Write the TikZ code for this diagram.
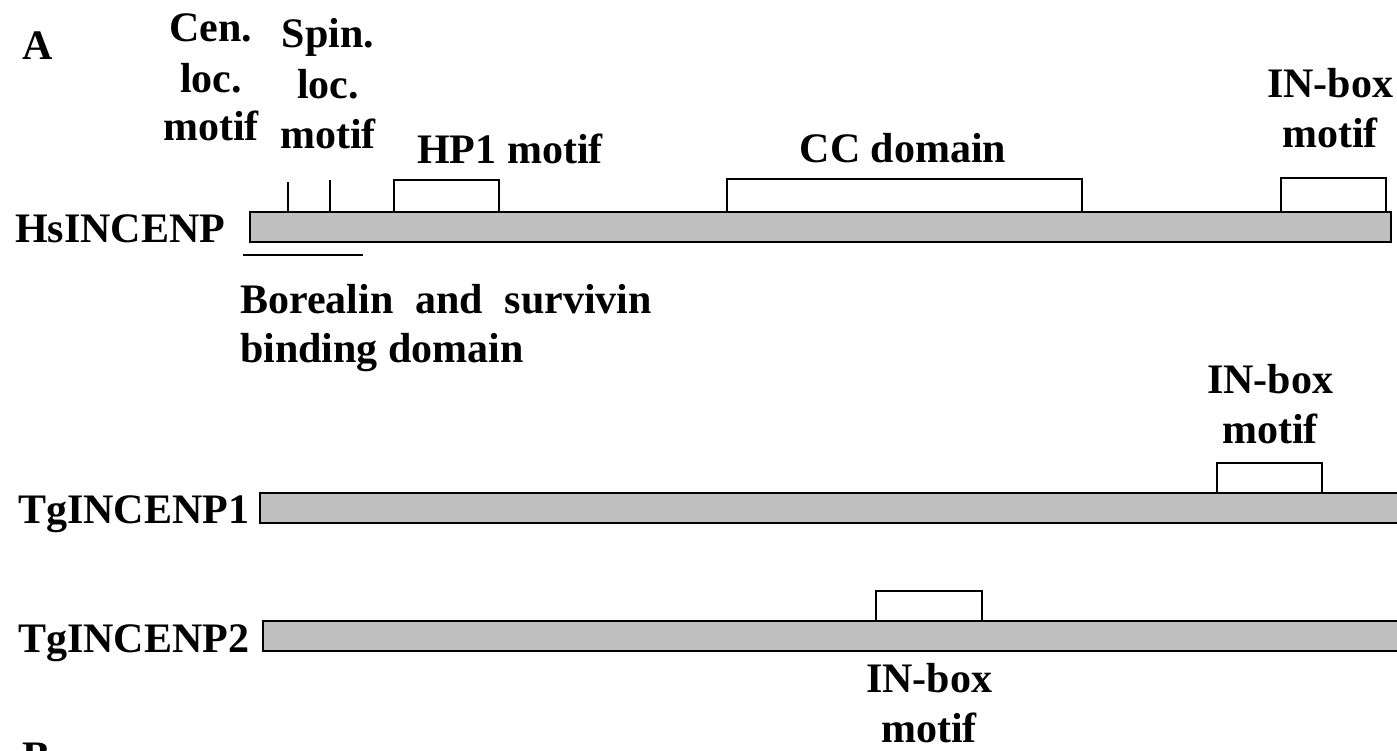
\documentclass[tikz,border=0pt]{standalone}
\usepackage{fontspec}
\setmainfont{Liberation Serif}
\begin{document}
\begin{tikzpicture}[x=1pt,y=-1pt,
  lbl/.style={inner sep=0pt,font=\bfseries\fontsize{42}{50}\selectfont},
  bar/.style={draw,line width=2pt,fill={rgb,255:red,192;green,192;blue,192}},
  brk/.style={draw,line width=1.6pt}]
\clip (0,0) rectangle (1397,750);
\fill[white] (0,0) rectangle (1397,750);
% panel letters
\node[lbl,anchor=base west] (lA) at (22,59) {A};
\node[lbl,anchor=base west] (lB) at (22,770) {B};
% top labels
\node[lbl,anchor=base] (cen1) at (211,41) {Cen.};
\node[lbl,anchor=base] (cen2) at (211,92) {loc.};
\node[lbl,anchor=base] (cen3) at (211,140) {motif};
\node[lbl,anchor=base] (spin1) at (328,47) {Spin.};
\node[lbl,anchor=base] (spin2) at (328,98) {loc.};
\node[lbl,anchor=base] (spin3) at (328,148) {motif};
\node[lbl,anchor=base] (hp1) at (510,163) {HP1 motif};
\node[lbl,anchor=base] (cc) at (903,162) {CC domain};
\node[lbl,anchor=base] (hsin1) at (1330,97) {IN-box};
\node[lbl,anchor=base] (hsin2) at (1330,147) {motif};
% HsINCENP
\node[lbl,anchor=base west] (hsname) at (15,242) {HsINCENP};
\path[bar] (250,212) rectangle (1391,242);
\draw[brk] (288,212) -- (288,182);
\draw[brk] (330,212) -- (330,180);
\draw[brk] (394,212) |- (499,180) -- (499,212);
\draw[brk] (727,212) |- (1082,179) -- (1082,212);
\draw[brk] (1281,212) |- (1386,178) -- (1386,212);
\draw[brk] (243,255) -- (363,255);
\node[lbl,anchor=base west] (bor1) at (240,313) {Borealin\hspace{0.52em}and\hspace{0.52em}survivin};
\node[lbl,anchor=base west] (bor2) at (240,362) {binding domain};
% TgINCENP1
\node[lbl,anchor=base] (tg1in1) at (1270,393) {IN-box};
\node[lbl,anchor=base] (tg1in2) at (1270,443) {motif};
\node[lbl,anchor=base west] (tg1name) at (18,523) {TgINCENP1};
\path[bar] (260,493) rectangle (1420,523);
\draw[brk] (1217,493) |- (1322,463) -- (1322,493);
% TgINCENP2
\node[lbl,anchor=base west] (tg2name) at (18,652) {TgINCENP2};
\path[bar] (263,621) rectangle (1420,651);
\draw[brk] (876,621) |- (982,591) -- (982,621);
\node[lbl,anchor=base] (tg2in1) at (929,692) {IN-box};
\node[lbl,anchor=base] (tg2in2) at (929,742) {motif};
\end{tikzpicture}
\end{document}
